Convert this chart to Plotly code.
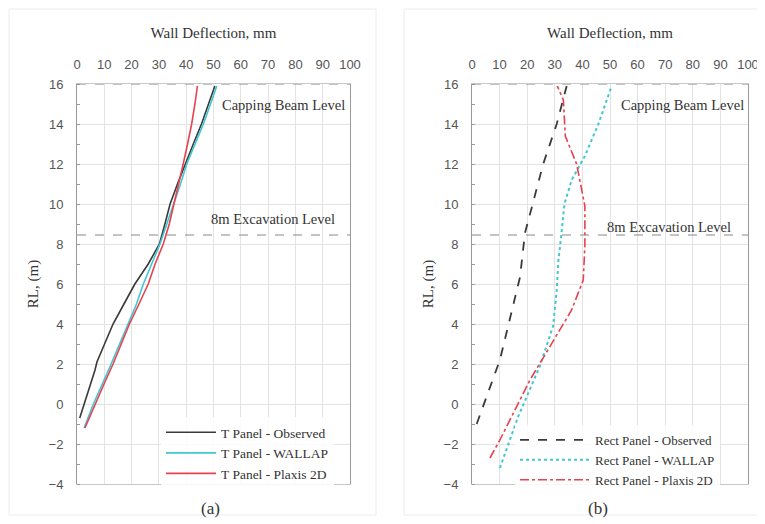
import plotly.graph_objects as go

# ---------------- data ----------------
# Panel (a): T panel
a_obs_rl = [-0.7, 0.5, 1.7, 2.1, 3.0, 4.0, 5.0, 6.0, 7.0, 8.0, 9.0, 10.0, 11.0, 12.0, 13.0, 14.0, 15.0, 15.9]
a_obs_def = [1.0, 3.9, 6.6, 7.3, 10.1, 13.2, 17.2, 21.2, 26.1, 30.2, 32.2, 34.1, 36.8, 39.6, 42.6, 45.6, 48.1, 50.5]

a_wal_rl = [-1.2, 0.0, 2.0, 4.0, 5.0, 6.0, 7.0, 8.0, 9.0, 10.0, 11.0, 12.0, 13.0, 14.0, 15.0, 15.9]
a_wal_def = [2.6, 6.0, 12.5, 18.8, 21.8, 24.3, 27.3, 30.4, 32.9, 35.5, 37.9, 40.2, 43.3, 46.3, 48.9, 51.2]

a_plx_rl = [-1.2, 0.0, 1.0, 2.0, 3.0, 4.0, 5.0, 6.0, 7.0, 8.0, 9.0, 10.0, 11.0, 12.0, 13.0, 14.0, 15.0, 15.9]
a_plx_def = [2.9, 6.6, 9.9, 13.2, 16.3, 19.2, 22.7, 26.1, 28.6, 31.6, 33.8, 35.5, 37.4, 38.9, 40.5, 42.0, 43.2, 44.1]

# Panel (b): Rect panel
b_obs_rl = [-1.0, 2.2, 6.35, 8.55, 12.0, 14.0, 15.9]
b_obs_def = [1.7, 10.1, 17.4, 19.2, 25.8, 30.7, 34.3]

b_wal_rl = [-3.2, -0.6, 1.9, 3.9, 5.7, 7.2, 8.0, 10.0, 11.2, 12.4, 14.0, 15.9]
b_wal_def = [10.1, 16.8, 24.6, 29.4, 30.7, 31.3, 32.0, 33.5, 36.1, 40.9, 45.8, 50.6]

b_plx_rl = [-2.7, -1.8, 1.2, 3.05, 4.7, 6.2, 7.9, 9.9, 12.0, 13.4, 15.2, 15.9]
b_plx_def = [6.5, 10.1, 21.0, 28.9, 36.1, 40.3, 40.9, 40.9, 37.9, 33.8, 33.1, 30.9]

a_names = ["T Panel - Observed", "T Panel - WALLAP", "T Panel - Plaxis 2D"]
b_names = ["Rect Panel - Observed", "Rect Panel - WALLAP", "Rect Panel - Plaxis 2D"]

levels = [16, 8.45]
level_labels = ["Capping Beam Level", "8m Excavation Level"]
x_ticks = list(range(0, 101, 10))
y_ticks = list(range(-4, 17, 2))
panel_labels = ["(a)", "(b)"]

# ---------------- styling ----------------
OFF = 8                     # page body margin of the html page
FW, FH = 765 - OFF, 524 - OFF


def px(sx):
    return (sx - OFF) / FW


def py(sy):
    return 1 - (sy - OFF) / FH


SERIF = "Liberation Serif, Times New Roman, serif"
SANS = "Liberation Sans, Arial, sans-serif"
C_BLACK = "#3a3a3a"
C_CYAN = "#40c8d2"
C_RED = "#e8414f"

fig = go.Figure()


def add(x, y, name, color, dash, xa, ya, leg, width=1.6):
    fig.add_trace(go.Scatter(x=x, y=y, mode="lines", name=name,
                             line=dict(color=color, dash=dash, width=width),
                             xaxis=xa, yaxis=ya, legend=leg))


add(a_obs_def, a_obs_rl, a_names[0], C_BLACK, "solid", "x", "y", "legend")
add(a_wal_def, a_wal_rl, a_names[1], C_CYAN, "solid", "x", "y", "legend")
add(a_plx_def, a_plx_rl, a_names[2], C_RED, "solid", "x", "y", "legend")

add(b_obs_def, b_obs_rl, b_names[0], C_BLACK, "dash", "x2", "y2", "legend2", 1.8)
add(b_wal_def, b_wal_rl, b_names[1], C_CYAN, "dot", "x2", "y2", "legend2", 2.0)
add(b_plx_def, b_plx_rl, b_names[2], C_RED, "dashdot", "x2", "y2", "legend2", 1.6)


def xax(domain, anchor):
    return dict(domain=domain, range=[0, 100], side="top", tickvals=x_ticks, anchor=anchor,
                showgrid=True, gridcolor="#e3e3e3", gridwidth=1, automargin=False,
                showline=True, linecolor="#c8c8c8", mirror=True,
                ticks="", ticklabelstandoff=9, zeroline=False,
                tickfont=dict(family=SANS, size=13, color="#555"),
                title=dict(text="Wall Deflection, mm", standoff=14,
                           font=dict(family=SERIF, size=15, color="#333")))


def yax(domain, anchor):
    return dict(domain=domain, range=[-4, 16], tickvals=y_ticks, anchor=anchor,
                showgrid=True, gridcolor="#e3e3e3", gridwidth=1, automargin=False,
                showline=True, linecolor="#9a9a9a", mirror=True,
                ticks="", ticklabelstandoff=10, zeroline=False,
                minor=dict(dtick=1, ticks="inside", ticklen=3, tickcolor="#999", showgrid=False),
                tickfont=dict(family=SANS, size=13, color="#555"),
                title=dict(text="RL, (m)", standoff=6,
                           font=dict(family=SERIF, size=15, color="#333")))


ydom = [py(484), py(84)]
fig.update_layout(
    width=FW, height=FH,
    margin=dict(l=0, r=0, t=0, b=0, autoexpand=False),
    paper_bgcolor="white", plot_bgcolor="white",
    xaxis=xax([px(77), px(350)], "y"),
    yaxis=yax(ydom, "x"),
    xaxis2=xax([px(472), px(748)], "y2"),
    yaxis2=yax(ydom, "x2"),
    legend=dict(x=px(161), y=py(417), xanchor="left", yanchor="top",
                bgcolor="rgba(255,255,255,0.85)", itemwidth=50,
                font=dict(family=SERIF, size=13.5, color="#333"),
                tracegroupgap=0),
    legend2=dict(x=px(515), y=py(425), xanchor="left", yanchor="top",
                 bgcolor="rgba(255,255,255,0.85)", itemwidth=70,
                 font=dict(family=SERIF, size=13, color="#333"),
                 tracegroupgap=0),
    showlegend=True,
)

# reference level lines
for xr, yr in [("x", "y"), ("x2", "y2")]:
    for lv in levels:
        fig.add_shape(type="line", xref=f"{xr} domain", yref=yr, x0=0, x1=1, y0=lv, y1=lv,
                      line=dict(color="#888", width=1, dash="dash"))

# level labels
ann_pos = {
    "x": [(99, 14.95), (95.2, 9.25)],
    "x2": [(99.3, 14.95), (94.6, 8.85)],
}
for xr, yr in [("x", "y"), ("x2", "y2")]:
    for (ax_, ay_), txt in zip(ann_pos[xr], level_labels):
        fig.add_annotation(x=ax_, y=ay_, xref=xr, yref=yr, text=txt, showarrow=False,
                           xanchor="right", yanchor="middle",
                           font=dict(family=SERIF, size=14.5, color="#333"))

# panel labels
for cx, lab in zip([210, 598], panel_labels):
    fig.add_annotation(x=px(cx), y=py(508), xref="paper", yref="paper", text=lab,
                       showarrow=False, xanchor="center", yanchor="middle",
                       font=dict(family=SERIF, size=17, color="#333"))

# faint panel frames
for x0, x1 in [(9, 376), (404, 762)]:
    fig.add_shape(type="rect", xref="paper", yref="paper",
                  x0=px(x0), x1=px(x1), y0=py(515), y1=py(9),
                  line=dict(color="#ececec", width=1), layer="below")

fig.write_html("out.html")
